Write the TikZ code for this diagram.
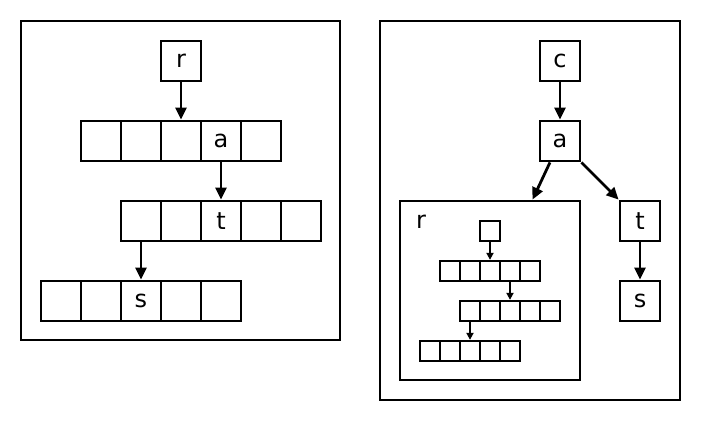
\documentclass[tikz,border=0pt]{standalone}
\usepackage{fontspec}
\setmainfont{DejaVu Sans}
\usetikzlibrary{arrows.meta, positioning}

\begin{document}
\begin{tikzpicture}[
    x=1pt, y=-1pt,
    line width=2.8pt,
    frame/.style={draw, line width=2.8pt, inner sep=0pt},
    cell/.style={draw, minimum size=40pt, inner sep=0pt, font=\fontsize{24}{26}\selectfont},
    minicell/.style={draw, minimum size=20pt, inner sep=0pt, line width=2.3pt},
    arr/.style={-{Triangle[length=12pt, width=11pt]}},
    miniarr/.style={-{Triangle[length=7pt, width=7pt]}, line width=2.1pt},
]
\useasboundingbox (0,0) rectangle (702,422);

% left trie
\node[frame, minimum width=319pt, minimum height=319pt] (left) at (180.5,180.5) {};
\node[cell] (r) at (181,61) {r};
\foreach \i/\t in {1/,2/,3/,4/a,5/}
    \node[cell] (u\i) at (61+40*\i,141) {\t};
\foreach \i/\t in {1/,2/,3/t,4/,5/}
    \node[cell] (v\i) at (101+40*\i,221) {\t};
\foreach \i/\t in {1/,2/,3/s,4/,5/}
    \node[cell] (w\i) at (21+40*\i,301) {\t};

\draw[arr] (r) -- (u3);
\draw[arr] (u4) -- (v3);
\draw[arr] (v1) -- (w3);

% right trie
\node[frame, minimum width=300pt, minimum height=379pt] (right) at (530,210.5) {};
\node[cell] (c) at (560,61) {c};
\node[cell] (a) at (560,141) {a};
\node[cell] (t) at (640,221) {t};
\node[cell] (s) at (640,301) {s};
\node[frame, minimum width=180pt, minimum height=179pt] (rbox) at (490,290.5) {};
\node[font=\fontsize{24}{26}\selectfont] (rlabel) at (421,222) {r};

\draw[arr] (c) -- (a);
\draw[arr] (a) -- (rbox);
\draw[arr] (a) -- (t);
\draw[arr] (t) -- (s);

% nested trie
\node[minicell] (m) at (490,231) {};
\foreach \i in {1,...,5}
    \node[minicell] (p\i) at (430+20*\i,271) {};
\foreach \i in {1,...,5}
    \node[minicell] (q\i) at (450+20*\i,311) {};
\foreach \i in {1,...,5}
    \node[minicell] (k\i) at (410+20*\i,351) {};

\draw[miniarr] (m) -- (p3);
\draw[miniarr] (p4) -- (q3);
\draw[miniarr] (q1) -- (k3);
\end{tikzpicture}
\end{document}
